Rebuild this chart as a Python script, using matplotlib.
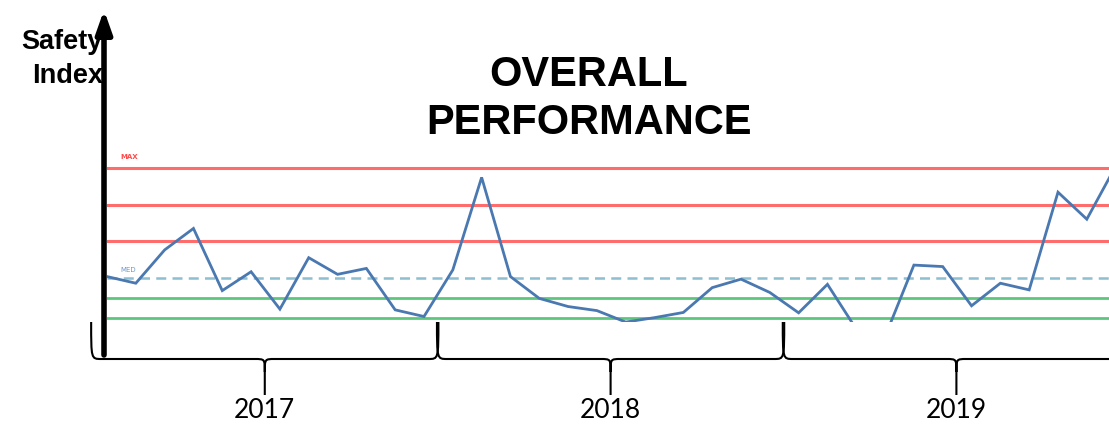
import matplotlib.pyplot as plt
import matplotlib.transforms as mtransforms
from matplotlib.path import Path
from matplotlib.patches import PathPatch

# monthly safety index, Jan 2017 .. Dec 2019
safety = [11.2, 9.4, 18.4, 24.2, 7.4, 12.5, 2.4, 16.3, 11.8, 13.4, 2.2, 0.4,
          13.0, 38.0, 11.2, 5.3, 3.1, 2.0, -1.1, 0.1, 1.5, 8.2, 10.5, 6.9,
          1.4, 9.1, -3.0, -5.0, 14.3, 13.9, 3.3, 9.4, 7.6, 34.0, 26.7, 41.0]
months = list(range(len(safety)))
years = ['2017', '2018', '2019']

red_levels = [40.5, 30.5, 20.8]
med_level = 10.8
green_levels = [5.4, 0.0]

W, H = 1109, 425
fig = plt.figure(figsize=(W / 100, H / 100), dpi=100)
ax = fig.add_axes([107 / W, (H - 322) / H, (W - 107) / W, 172 / H])
ax.set_xlim(0, 34.77)
ax.set_ylim(-1.08, 45.4)
ax.axis('off')

for lv in red_levels:
    ax.axhline(lv, color='#ff5c5c', lw=2.2, alpha=0.9)
ax.axhline(med_level, color='#8dbfd0', lw=1.8, ls=(0, (4, 2.5)))
for lv in green_levels:
    ax.axhline(lv, color='#5cc77c', lw=2.0)

ax.plot(months, safety, color='#4a78b0', lw=2.0, solid_joinstyle='miter')

ax.text(0.45, red_levels[0] + 2.2, 'MAX', color='#ff4b4b', fontsize=5,
        fontweight='bold', va='bottom')
ax.text(0.45, med_level + 1.4, 'MED', color='#6f95c6', fontsize=5, va='bottom')

# y axis arrow
ax.annotate('', xy=(104 / W, 1 - 10 / H), xytext=(104 / W, 1 - 355 / H),
            xycoords='figure fraction', textcoords='figure fraction',
            arrowprops=dict(arrowstyle='-|>,head_length=0.85,head_width=0.3',
                            lw=4.0, color='black', shrinkA=0, shrinkB=0,
                            mutation_scale=16))

fig.text(103 / W, 1 - 59 / H, 'Safety\nIndex', ha='right', va='center',
         fontsize=19.5, fontweight='bold', family='Liberation Sans',
         linespacing=1.4)
fig.text(589 / W, 1 - 99 / H, 'OVERALL\nPERFORMANCE', ha='center', va='center',
         fontsize=30, fontweight='bold', family='Liberation Sans',
         linespacing=1.25)

# year braces under the axis
trans = mtransforms.blended_transform_factory(ax.transData, fig.transFigure)
top = 1 - 322 / H
base = 1 - 359 / H
tip = 1 - 395 / H
knee = 1 - 372 / H
r = 0.35
for i, yr in enumerate(years):
    xa, xb = 12 * i - 0.55, 12 * i + 11.5
    xc = (xa + xb) / 2
    verts = [(xa, top), (xa, base), (xa, base), (xa + r, base),
             (xc - r, base),
             (xc, base), (xc, base), (xc, knee),
             (xc, tip),
             (xc, knee),
             (xc, base), (xc, base), (xc + r, base),
             (xb - r, base),
             (xb, base), (xb, base), (xb, top)]
    codes = [Path.MOVETO, Path.CURVE4, Path.CURVE4, Path.CURVE4,
             Path.LINETO,
             Path.CURVE4, Path.CURVE4, Path.CURVE4,
             Path.LINETO,
             Path.MOVETO,
             Path.CURVE4, Path.CURVE4, Path.CURVE4,
             Path.LINETO,
             Path.CURVE4, Path.CURVE4, Path.CURVE4]
    brace = PathPatch(Path(verts, codes), transform=trans, fill=False,
                      lw=1.5, color='black', clip_on=False)
    ax.add_patch(brace)
    ax.text(xc, 1 - 410 / H, yr, transform=trans, ha='center', va='center',
            fontsize=19, family='Lato')

fig.savefig('out.png', dpi=100)
